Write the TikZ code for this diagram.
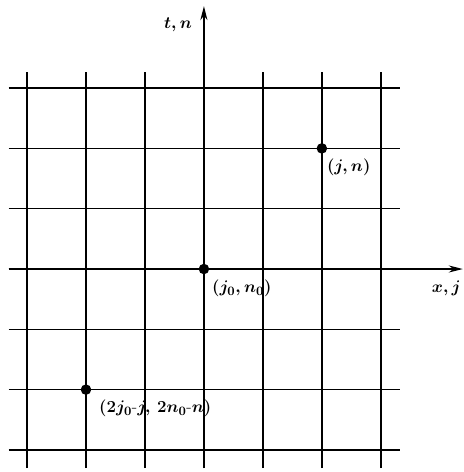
\documentclass[tikz,border=0pt]{standalone}
\usetikzlibrary{arrows.meta}

\tikzstyle{gridline} = [line width=1.3pt]
\tikzstyle{axis} = [line width=1.3pt, -{Stealth[length=12pt,width=6pt]}]
\tikzstyle{dot} = [circle, minimum width=9pt, fill, inner sep=0pt]
\tikzstyle{lbl} = [font=\fontsize{15}{18}\selectfont\boldmath, inner sep=0pt, anchor=north west]

\begin{document}
\begin{tikzpicture}[x=1.77cm, y=1.81cm]
	\useasboundingbox (-3.458,-3.366) rectangle (4.407,4.461);
	% mesh
	\foreach \i in {-3,...,3} {
		\draw[gridline] (\i,-3.30) -- (\i,3.27);
		\draw[gridline] (-3.31,\i) -- (3.32,\i);
	}
	% axes
	\coordinate (tbot) at (0,-3.30);
	\coordinate (ttop) at (0,4.36);
	\coordinate (xleft) at (-3.31,0);
	\coordinate (xright) at (4.39,0);
	\draw[axis] (tbot) -- (ttop);
	\draw[axis] (xleft) -- (xright);
	\node[font=\fontsize{15}{18}\selectfont\boldmath] (tlabel) at (-0.44,4.05) {$t,n$};
	\node[font=\fontsize{15}{18}\selectfont\boldmath] (xlabel) at (4.11,-0.32) {$x,j$};
	% mesh points
	\node[dot] (jn) at (2,2) {};
	\node[dot] (j0n0) at (0,0) {};
	\node[dot] (refl) at (-2,-2) {};
	\node[lbl] (jn-lbl) at ([xshift=0.15cm,yshift=-0.3cm]jn) {$(j,n)$};
	\node[lbl] (j0n0-lbl) at ([xshift=0.24cm,yshift=-0.33cm]j0n0) {$(j_0,n_0)$};
	\node[lbl] (refl-lbl) at ([xshift=0.39cm,yshift=-0.3cm]refl)
		{$(2j_0\mbox{-}j,\,2n_0\mbox{-}n)$};
\end{tikzpicture}
\end{document}
